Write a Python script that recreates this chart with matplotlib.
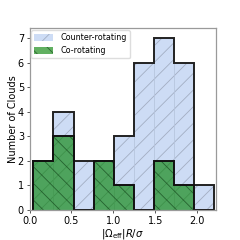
import numpy as np
import matplotlib
matplotlib.use('Agg')
import matplotlib.pyplot as plt

# bin edges and counts
bin_edges = [0.045, 0.285, 0.525, 0.765, 1.005, 1.245, 1.485, 1.725, 1.965, 2.205]
counter_counts = [2, 4, 2, 2, 3, 6, 7, 6, 1]
co_counts = [2, 3, 0, 2, 1, 0, 2, 1, 0]

plt.rcParams['font.size'] = 7
plt.rcParams['hatch.linewidth'] = 0.6

fig = plt.figure(figsize=(2.4, 2.4), dpi=100)
ax = fig.add_axes([0.123, 0.125, 0.775, 0.757])

edges = np.array(bin_edges)
lefts = edges[:-1]
widths = np.diff(edges)

# counter-rotating: light blue with thin grey hatch
ax.bar(lefts, counter_counts, width=widths, align='edge', color='#cddcf5',
       edgecolor='#a3aec2', linewidth=0, hatch='//', label='Counter-rotating')
# faint bin boundaries
ax.bar(lefts, counter_counts, width=widths, align='edge', fill=False,
       edgecolor='#b7c5dd', linewidth=0.4)
ax.stairs(counter_counts, edges, color='#222222', linewidth=1.4)

# co-rotating: semi-transparent green with dark hatch
co = np.array(co_counts)
mask = co > 0
ax.bar(lefts[mask], co[mask], width=widths[mask], align='edge', color='green',
       alpha=0.62, edgecolor='#0c3a12', linewidth=0, hatch='\\\\', label='Co-rotating')
ax.stairs(co_counts, edges, color='#111111', linewidth=1.4)

ax.set_xlim(0, 2.22)
ax.set_ylim(0, 7.4)
ax.set_xticks([0.0, 0.5, 1.0, 1.5, 2.0])
ax.set_yticks(range(0, 8))
ax.set_xlabel(r'$|\Omega_{\rm eff}|R/\sigma$', fontsize=7.2, labelpad=1)
ax.set_ylabel('Number of Clouds', fontsize=7, labelpad=0)

for s in ax.spines.values():
    s.set_color('#9a9a9a')
    s.set_linewidth(0.9)
ax.tick_params(length=2.5, width=0.7, color='#555555', pad=1.5)

ax.legend(loc='upper left', fontsize=5.8, frameon=True, framealpha=1,
          edgecolor='#dddddd', handlelength=2.3, handleheight=0.9,
          borderaxespad=0.2, handletextpad=0.9)

fig.savefig('out.png', dpi=100)
